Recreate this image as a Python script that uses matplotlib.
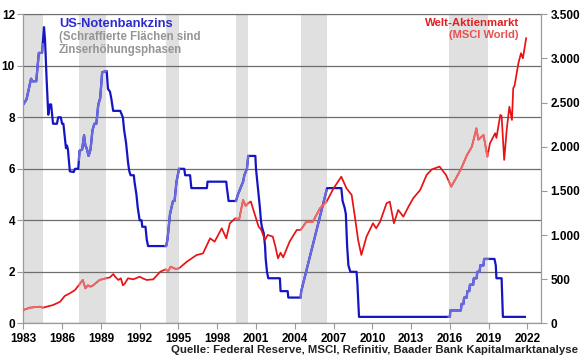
import numpy as np
import matplotlib.pyplot as plt
from matplotlib.ticker import FuncFormatter

plt.rcParams['font.family'] = ['Liberation Sans', 'DejaVu Sans']
plt.rcParams['font.weight'] = 'bold'

# Fed funds rate (%)
fed_t = [1983.0, 1983.25, 1983.6, 1983.7, 1984.0, 1984.2, 1984.45, 1984.6, 1984.68, 1984.8,
         1984.93, 1985.05, 1985.15, 1985.3, 1985.6, 1985.7, 1985.9, 1986.0, 1986.1, 1986.3,
         1986.38, 1986.45, 1986.6, 1986.9, 1987.0, 1987.25, 1987.35, 1987.55, 1987.7, 1987.8,
         1987.9, 1988.05, 1988.2, 1988.35, 1988.5, 1988.65, 1988.8, 1988.95, 1989.1, 1989.45,
         1989.55, 1989.7, 1989.8, 1989.95, 1990.5, 1990.7, 1990.8, 1990.95, 1991.1, 1991.2,
         1991.3, 1991.55, 1991.6, 1991.75, 1991.85, 1992.0, 1992.15, 1992.2, 1992.45, 1992.55,
         1992.65, 1994.05, 1994.15, 1994.25, 1994.35, 1994.58, 1994.7, 1994.85, 1995.05, 1995.45,
         1995.52, 1995.9, 1996.0, 1997.2, 1997.25, 1998.7, 1998.75, 1998.82, 1998.88, 1999.45,
         1999.6, 1999.8, 2000.0, 2000.1, 2000.3, 2000.4, 2000.95, 2001.0, 2001.1, 2001.2,
         2001.3, 2001.38, 2001.45, 2001.6, 2001.7, 2001.75, 2001.85, 2001.95, 2002.85, 2002.9,
         2003.45, 2003.5, 2004.45, 2004.5, 2005.0, 2005.5, 2006.0, 2006.5, 2007.6, 2007.7,
         2007.85, 2007.95, 2008.05, 2008.15, 2008.3, 2008.78, 2008.85, 2008.9, 2008.97, 2016.0,
         2016.03, 2016.85, 2016.9, 2017.05, 2017.1, 2017.3, 2017.35, 2017.5, 2017.55, 2017.8,
         2017.85, 2018.07, 2018.12, 2018.3, 2018.35, 2018.6, 2018.65, 2018.84, 2019.45, 2019.55,
         2019.6, 2020.0, 2020.1, 2021.8]
fed_v = [8.5, 8.7, 9.5, 9.4, 9.4, 10.5, 10.5, 11.5, 11.0, 9.5,
         8.1, 8.5, 8.5, 7.75, 7.75, 8.0, 8.0, 7.75, 7.75, 6.8,
         6.9, 6.75, 5.9, 5.875, 6.0, 6.0, 6.7, 6.75, 7.3, 6.9,
         6.8, 6.5, 6.75, 7.5, 7.75, 7.75, 8.5, 8.75, 9.75, 9.8,
         9.1, 9.0, 8.75, 8.25, 8.25, 8.0, 7.5, 7.0, 6.25, 5.9,
         5.75, 5.75, 5.5, 5.0, 4.5, 4.0, 4.0, 3.75, 3.75, 3.25,
         3.0, 3.0, 3.25, 3.75, 4.25, 4.75, 4.75, 5.5, 6.0, 6.0,
         5.75, 5.75, 5.25, 5.25, 5.5, 5.5, 5.25, 5.0, 4.75, 4.75,
         5.0, 5.25, 5.5, 5.75, 6.0, 6.5, 6.5, 6.0, 5.5, 5.0,
         4.5, 4.0, 3.75, 3.5, 3.0, 2.5, 2.0, 1.75, 1.75, 1.25,
         1.25, 1.0, 1.0, 1.25, 2.25, 3.25, 4.25, 5.25, 5.25, 4.75,
         4.5, 4.25, 3.0, 2.25, 2.0, 2.0, 1.5, 1.0, 0.25, 0.25,
         0.5, 0.5, 0.75, 0.75, 1.0, 1.0, 1.25, 1.25, 1.5, 1.5,
         1.75, 1.75, 2.0, 2.0, 2.25, 2.25, 2.5, 2.5, 2.5, 2.25,
         1.75, 1.75, 0.25, 0.25]

# MSCI World index
msci_t = [1983.0, 1983.5, 1984.0, 1984.3, 1984.5, 1984.8, 1985.3, 1985.85, 1986.2, 1986.6,
          1987.0, 1987.4, 1987.6, 1987.8, 1988.0, 1988.2, 1988.4, 1988.9, 1989.4, 1989.7,
          1989.96, 1990.15, 1990.35, 1990.55, 1990.7, 1990.85, 1991.1, 1991.5, 1992.0, 1992.3,
          1992.55, 1993.05, 1993.6, 1994.0, 1994.2, 1994.4, 1994.8, 1995.05, 1995.65, 1996.4,
          1996.9, 1997.45, 1997.8, 1998.35, 1998.7, 1998.98, 1999.4, 1999.7, 2000.0, 2000.2,
          2000.4, 2000.6, 2000.8, 2001.2, 2001.4, 2001.7, 2001.9, 2002.3, 2002.5, 2002.7,
          2002.9, 2003.1, 2003.6, 2004.15, 2004.45, 2004.9, 2005.4, 2005.95, 2006.46, 2007.0,
          2007.6, 2008.0, 2008.4, 2008.65, 2008.9, 2009.15, 2009.55, 2010.05, 2010.3, 2010.6,
          2011.1, 2011.35, 2011.67, 2012.0, 2012.4, 2012.8, 2013.16, 2013.7, 2014.2, 2014.6,
          2015.2, 2015.7, 2016.1, 2016.5, 2016.9, 2017.3, 2017.7, 2018.05, 2018.2, 2018.6,
          2018.9, 2019.1, 2019.5, 2019.6, 2019.9, 2020.0, 2020.2, 2020.4, 2020.6, 2020.8,
          2020.9, 2021.0, 2021.3, 2021.5, 2021.65, 2021.9]
msci_v = [151, 177, 185, 188, 177, 188, 207, 245, 309, 340,
          377, 453, 491, 396, 430, 415, 430, 491, 510, 520,
          558, 520, 491, 510, 430, 450, 510, 498, 528, 505,
          491, 498, 585, 611, 590, 641, 615, 623, 698, 773,
          792, 963, 925, 1076, 963, 1133, 1190, 1180, 1397, 1330,
          1360, 1380, 1284, 1095, 1060, 944, 1001, 982, 870, 736,
          800, 747, 925, 1057, 1057, 1151, 1151, 1303, 1378, 1529,
          1661, 1529, 1454, 1208, 944, 774, 982, 1133, 1076, 1151,
          1360, 1378, 1133, 1284, 1208, 1322, 1416, 1510, 1680, 1743,
          1775, 1680, 1548, 1650, 1760, 1900, 2000, 2209, 2080, 2133,
          1888, 2039, 2153, 2100, 2360, 2350, 1850, 2200, 2454, 2303,
          2663, 2690, 2946, 3059, 3002, 3229]

# rate hike phases
hike_start = [1983.0, 1987.3, 1994.0, 1999.45, 2004.45, 2015.9]
hike_end = [1984.5, 1989.4, 1995.05, 2000.4, 2006.46, 2018.95]

blue, blue_lt = '#1515c4', '#6a6ae0'
red, red_lt = '#e81212', '#ec6a6a'


def segment(t, v, a, b):
    t = np.asarray(t, float)
    v = np.asarray(v, float)
    m = (t > a) & (t < b)
    ts = np.concatenate([[a], t[m], [b]])
    vs = np.concatenate([[np.interp(a, t, v)], v[m], [np.interp(b, t, v)]])
    return ts, vs


fig = plt.figure(figsize=(5.8, 3.59), dpi=100)
ax = fig.add_axes([0.0402, 0.0994, 0.8926, 0.8608])
ax2 = ax.twinx()

for a, b in zip(hike_start, hike_end):
    ax.axvspan(a, b, color='#e0e0e0', lw=0, zorder=0)

ax.plot(fed_t, fed_v, color=blue, lw=1.6, zorder=3)
for a, b in zip(hike_start, hike_end):
    ts, vs = segment(fed_t, fed_v, a, b)
    ax.plot(ts, vs, color=blue_lt, lw=1.6, zorder=4)

ax2.plot(msci_t, msci_v, color=red, lw=1.25, zorder=3)
for a, b in zip(hike_start, hike_end):
    ts, vs = segment(msci_t, msci_v, a, b)
    ax2.plot(ts, vs, color=red_lt, lw=1.25, zorder=4)

ax.set_xlim(1983, 2023.05)
ax.set_ylim(0, 12)
ax2.set_ylim(0, 3500)
ax.set_xticks(np.arange(1983, 2023, 3))
ax.set_yticks(np.arange(0, 13, 2))
ax2.set_yticks(np.arange(0, 3501, 500))
ax2.yaxis.set_major_formatter(FuncFormatter(lambda x, p: f'{x:,.0f}'.replace(',', '.')))

ax.yaxis.grid(True, color='#6e6e6e', lw=0.9)
ax.set_axisbelow(True)
for s in ['left', 'bottom', 'right']:
    ax.spines[s].set_color('#9a9a9a')
    ax2.spines[s].set_color('#9a9a9a')
ax.spines['top'].set_color('#6e6e6e')
ax2.spines['top'].set_visible(False)

ax.tick_params(axis='both', direction='out', length=4, color='#9a9a9a',
               labelsize=8.5, pad=2)
ax.tick_params(axis='x', pad=3)
ax2.tick_params(axis='y', direction='out', length=4, color='#9a9a9a',
                labelsize=8.5, pad=3)

fig.text(0.1017, 0.933, 'US-Notenbankzins', color='#2b2bd0', fontsize=9.3,
         fontweight='bold', va='center')
fig.text(0.1017, 0.897, '(Schraffierte Flächen sind', color='#959595', fontsize=8.3,
         fontweight='bold', va='center')
fig.text(0.1017, 0.861, 'Zinserhöhungsphasen', color='#959595', fontsize=8.3,
         fontweight='bold', va='center')
fig.text(0.8948, 0.936, 'Welt-Aktienmarkt', color='#e02020', fontsize=8.2,
         fontweight='bold', va='center', ha='right')
fig.text(0.8948, 0.902, '(MSCI World)', color='#e85050', fontsize=8.0,
         fontweight='bold', va='center', ha='right')
fig.text(0.9966, 0.025, 'Quelle: Federal Reserve, MSCI, Refinitiv, Baader Bank Kapitalmarktanalyse',
         color='#222222', fontsize=8.2, fontweight='bold', va='center', ha='right')

fig.savefig('out.png', dpi=100)
